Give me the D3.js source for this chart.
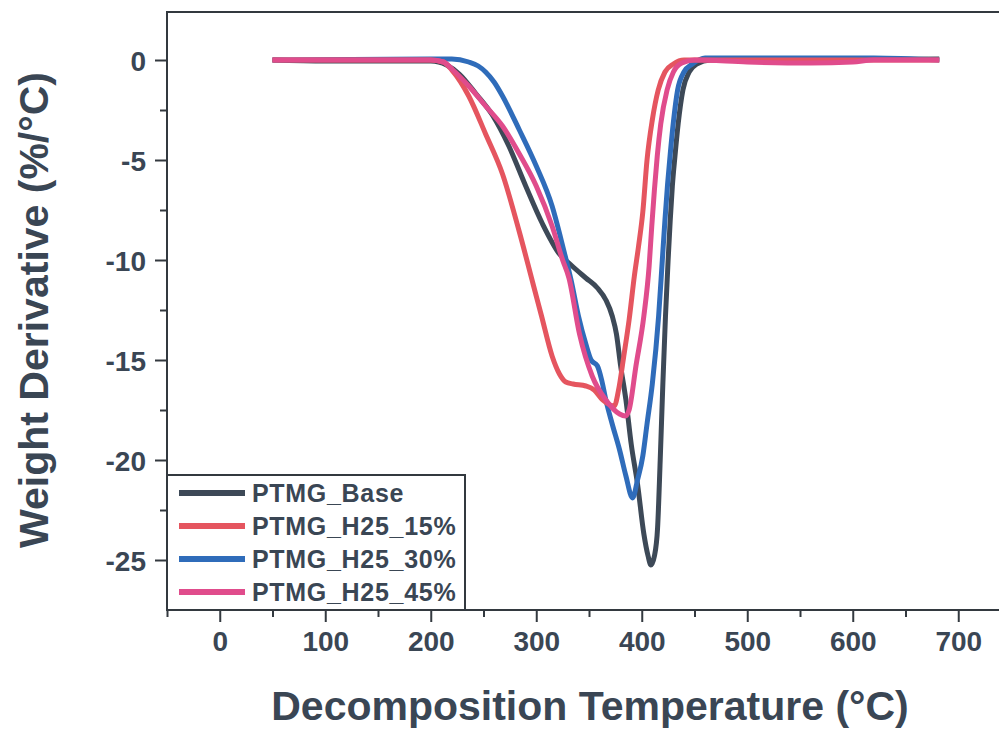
<html>
    <head>
        <style>
            body { margin: 0; background: #ffffff; }
            text { font-family: "Liberation Sans", Arial, sans-serif; font-weight: bold; fill: #3a4654; }
        </style>
        <script src="https://d3js.org/d3.v7.min.js"></script>
    </head>
    <body>
        <svg id="plot" width="999" height="731"></svg>
        <script>
            // values: temperature (°C) and weight derivative (%/°C)
            const baseT = [50, 100, 150, 200, 215, 227, 243, 259, 274, 290, 306, 322, 334, 347, 358, 366, 372, 376, 380, 385, 390, 396, 402, 406, 408.7, 412, 415, 417.5, 420, 422.5, 425, 427, 429, 431.5, 434.5, 439, 445, 452, 465, 550, 682];
            const baseV = [0, -0.05, -0.05, -0.05, -0.25, -0.7, -1.7, -2.8, -4.3, -6.3, -8.2, -9.7, -10.3, -10.9, -11.4, -12.0, -12.8, -13.7, -15.3, -17.0, -19.2, -21.2, -23.7, -24.8, -25.25, -24.8, -23.4, -20.0, -16.2, -12.8, -10.0, -8.0, -6.3, -4.8, -3.2, -1.5, -0.6, -0.2, 0, 0, 0.05];

            const h15T = [50, 200, 212, 220, 236, 252, 268, 284, 297, 305, 315, 322, 328, 335, 347, 355, 363, 370, 374, 378, 383, 388, 393, 397, 401, 405, 410, 415.6, 422, 430, 440, 682];
            const h15V = [0, 0, -0.1, -0.5, -1.8, -3.7, -5.7, -8.6, -11.2, -12.8, -14.8, -15.7, -16.1, -16.2, -16.3, -16.5, -17.0, -17.25, -17.3, -16.5, -14.8, -13.0, -10.8, -9.3, -7.6, -5.0, -3.0, -1.5, -0.6, -0.2, 0, 0];

            const h30T = [50, 200, 220, 236, 245, 252, 260, 268, 284, 300, 315, 326, 333, 340, 347, 352, 358, 362, 366, 372, 379, 385, 391.3, 396, 401, 405, 410, 416, 419.5, 422, 424.5, 427, 430, 434, 440, 448, 460, 550, 620, 682];
            const h30V = [0, 0.05, 0.05, -0.1, -0.3, -0.6, -1.1, -1.8, -3.5, -5.3, -7.3, -9.5, -11.0, -12.8, -14.2, -15.0, -15.3, -16.0, -17.0, -18.2, -19.5, -20.8, -21.9, -21.0, -19.8, -18.2, -16.2, -12.8, -10.0, -8.0, -6.2, -4.7, -3.1, -1.5, -0.6, -0.2, 0.1, 0.1, 0.1, 0];

            const h45T = [50, 200, 212, 221, 236, 252, 268, 284, 300, 315, 325, 331, 341, 353, 366, 379, 384.4, 388, 394.5, 402, 407, 409.5, 412, 414.7, 418, 424, 430, 438, 450, 500, 560, 600, 620, 682];
            const h45V = [0, 0, -0.1, -0.5, -1.3, -2.3, -3.3, -4.7, -6.3, -8.3, -10.0, -10.9, -13.7, -15.8, -17.0, -17.7, -17.8, -17.5, -15.3, -12.8, -10.3, -8.3, -6.5, -4.8, -3.2, -1.5, -0.6, -0.15, 0, -0.1, -0.15, -0.1, 0, 0];

            const seriesNames = ['PTMG_Base', 'PTMG_H25_15%', 'PTMG_H25_30%', 'PTMG_H25_45%'];
            const seriesColors = ['#3d4957', '#e5555f', '#2f6cba', '#e04c8c'];

            const xTicks = [0, 100, 200, 300, 400, 500, 600, 700];
            const yTicks = [0, -5, -10, -15, -20, -25];

            const svg = d3.select('#plot');

            const plotLeft = 167, plotRight = 1011, plotTop = 12, plotBottom = 610;

            const xScale = d3.scaleLinear().domain([-50, 750]).range([plotLeft, plotRight]);
            const yScale = d3.scaleLinear().domain([-27.5, 2.4]).range([plotBottom, plotTop]);

            // frame
            svg.append('rect')
                .attr('x', plotLeft).attr('y', plotTop)
                .attr('width', plotRight - plotLeft).attr('height', plotBottom - plotTop)
                .attr('fill', 'none')
                .attr('stroke', '#33393f')
                .attr('stroke-width', 2);

            // bottom axis, major + minor ticks
            const xAxis = svg.append('g')
                .attr('transform', `translate(0, ${plotBottom})`)
                .call(d3.axisBottom(xScale).tickValues(xTicks).tickSize(12).tickPadding(9).tickFormat(d3.format('d')));
            svg.append('g')
                .attr('transform', `translate(0, ${plotBottom})`)
                .call(d3.axisBottom(xScale).tickValues(d3.range(-50, 750, 100)).tickSize(7).tickFormat(''));

            // left axis
            const yAxis = svg.append('g')
                .attr('transform', `translate(${plotLeft}, 0)`)
                .call(d3.axisLeft(yScale).tickValues(yTicks).tickSize(12).tickPadding(9).tickFormat(d3.format('d')));
            svg.append('g')
                .attr('transform', `translate(${plotLeft}, 0)`)
                .call(d3.axisLeft(yScale).tickValues([-2.5, -7.5, -12.5, -17.5, -22.5]).tickSize(7).tickFormat(''));

            svg.selectAll('.domain').remove();
            svg.selectAll('.tick line').attr('stroke', '#33393f').attr('stroke-width', 2);
            xAxis.selectAll('text').style('font-size', '28px').attr('fill', '#3a4654');
            yAxis.selectAll('text').style('font-size', '28px').attr('fill', '#3a4654')
                .attr('dy', '0.36em');
            // d3 uses a minus sign; the picture has a hyphen
            yAxis.selectAll('text').text(d => String(d));

            // axis titles
            svg.append('text')
                .attr('x', 590).attr('y', 720)
                .style('text-anchor', 'middle')
                .style('font-size', '41px')
                .text('Decomposition Temperature (°C)');

            svg.append('text')
                .attr('transform', 'translate(48, 310) rotate(-90)')
                .style('text-anchor', 'middle')
                .style('font-size', '41px')
                .text('Weight Derivative (%/°C)');

            // curves
            const line = d3.line()
                .x(d => xScale(d[0]))
                .y(d => yScale(d[1]))
                .curve(d3.curveMonotoneX);

            const curves = [
                d3.zip(baseT, baseV),
                d3.zip(h15T, h15V),
                d3.zip(h30T, h30V),
                d3.zip(h45T, h45V)
            ];
            const drawOrder = [0, 2, 1, 3];

            svg.selectAll('path.curve')
                .data(drawOrder)
                .enter()
                .append('path')
                .attr('class', 'curve')
                .attr('d', i => line(curves[i]))
                .attr('fill', 'none')
                .attr('stroke', i => seriesColors[i])
                .attr('stroke-width', 5)
                .attr('stroke-linejoin', 'round');

            // legend
            const legend = svg.append('g');
            legend.append('rect')
                .attr('x', plotLeft).attr('y', 475)
                .attr('width', 298).attr('height', plotBottom - 475)
                .attr('fill', '#ffffff')
                .attr('stroke', '#33393f')
                .attr('stroke-width', 2);

            const rowY = [493, 526, 559, 592];
            seriesNames.forEach((name, i) => {
                legend.append('line')
                    .attr('x1', 179).attr('x2', 245)
                    .attr('y1', rowY[i]).attr('y2', rowY[i])
                    .attr('stroke', seriesColors[i])
                    .attr('stroke-width', 6);
                legend.append('text')
                    .attr('x', 252).attr('y', rowY[i] + 9)
                    .style('font-size', '25px')
                    .style('letter-spacing', '0.7px')
                    .text(name);
            });
        </script>
    </body>
</html>
